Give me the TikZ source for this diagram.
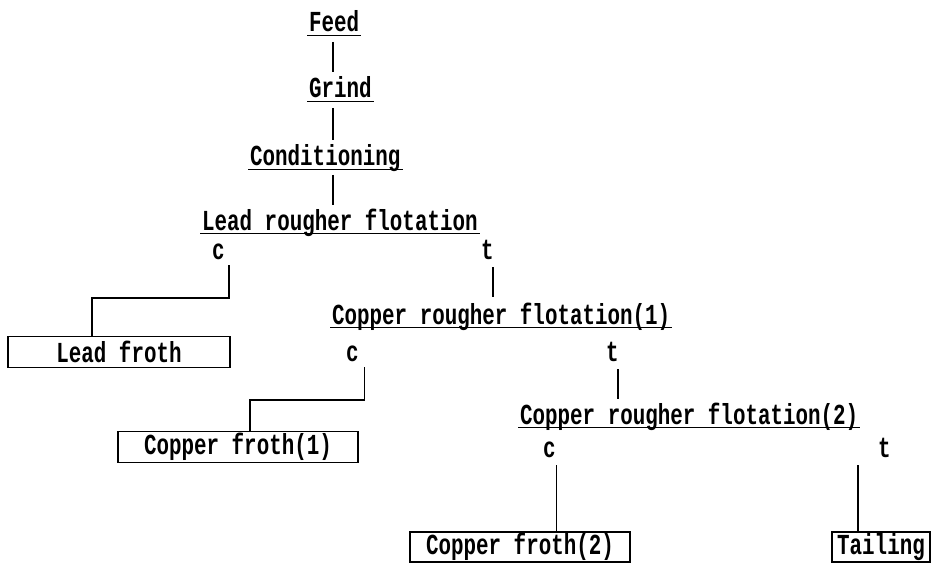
\documentclass[tikz,border=0pt]{standalone}
\usepackage{fontspec}
\newfontfamily\flowfont[FakeStretch=0.72]{Liberation Mono}
\tikzset{
    flowtext/.style={font=\flowfont\bfseries\fontsize{16.5}{19}\selectfont, inner sep=1pt},
    stage/.style={flowtext, anchor=base west},
    tag/.style={flowtext, anchor=base west},
    product/.style={flowtext, draw, line width=0.8pt, inner sep=0pt},
    feedline/.style={line width=1.3pt},
    branch/.style={line width=0.7pt},
    uline/.style={line width=0.6pt}
}

\begin{document}
\begin{tikzpicture}[x=0.02cm,y=-0.02cm]

% page frame (pixel grid, origin at top left)
\useasboundingbox (0,0) rectangle (932,564);

% =====================================================
% MAIN LINE
% =====================================================
\node[stage] (feed)  at (307,32)  {Feed};
\node[stage] (grind) at (307,98)  {Grind};
\node[stage] (cond)  at (248,166) {Conditioning};
\node[stage] (lead)  at (200,230) {Lead rougher flotation};

\draw[feedline] (333,42)  -- (333,72);
\draw[feedline] (333,108) -- (333,140);
\draw[feedline] (333,175) -- (333,205);

% =====================================================
% LEAD ROUGHER
% =====================================================
\node[tag] (lc) at (210,259) {c};
\node[tag] (lt) at (479,259) {t};

\node[product, minimum width=4.44cm, minimum height=0.62cm] (leadfroth) at (119,352) {Lead froth};

\coordinate (j1) at (92,298);
\draw[branch] ([xshift=6]lc.south) ++(0,4) |- (j1) -- (j1 |- leadfroth.north);

\node[stage] (cu1) at (330,324) {Copper rougher flotation(1)};
\draw[feedline] ([xshift=3]lt.south) ++(0,6) -- ++(0,30);

% =====================================================
% COPPER ROUGHER (1)
% =====================================================
\node[tag] (c1c) at (344,361) {c};
\node[tag] (c1t) at (604,361) {t};

\node[product, minimum width=4.8cm, minimum height=0.62cm] (cf1) at (238,447) {Copper froth(1)};

\coordinate (j2) at (250,400);
\draw[branch] ([xshift=7]c1c.south) ++(0,4) |- (j2) -- (j2 |- cf1.north);

\node[stage] (cu2) at (518,424) {Copper rougher flotation(2)};
\draw[feedline] ([xshift=3]c1t.south) ++(0,6) -- ++(0,30);

% =====================================================
% COPPER ROUGHER (2)
% =====================================================
\node[tag] (c2c) at (541,457) {c};
\node[tag] (c2t) at (876,457) {t};

\node[product, minimum width=4.4cm, minimum height=0.6cm] (cf2) at (520,547) {Copper froth(2)};
\node[product, minimum width=1.96cm, minimum height=0.6cm] (tail) at (881,547) {Tailing};

\draw[branch] ([xshift=4]c2c.south) ++(0,6) -- ([xshift=4]c2c.south |- cf2.north);
\draw[feedline] ([xshift=-15]c2t.south) ++(0,6) -- ([xshift=-15]c2t.south |- tail.north);

% underlines of the stages
\foreach \n in {feed,grind,cond,lead,cu1,cu2} {
    \draw[uline] ([yshift=-2pt]\n.base west) -- ([yshift=-2pt]\n.base east);
}

\end{tikzpicture}
\end{document}
